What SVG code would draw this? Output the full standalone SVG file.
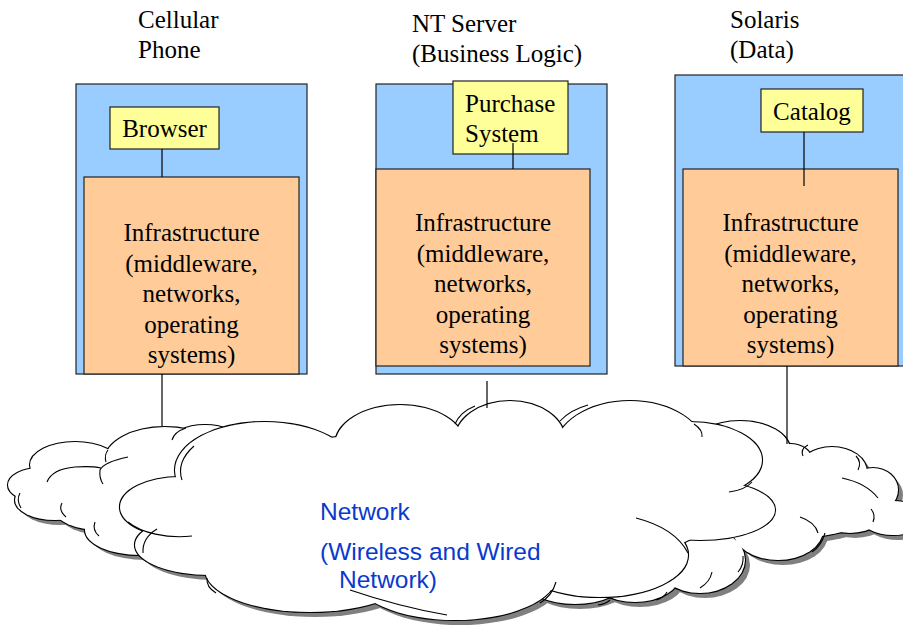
<svg xmlns="http://www.w3.org/2000/svg" width="903" height="626" viewBox="0 0 903 626">
<style>
.blue{fill:#99CCFF;stroke:#222;stroke-width:1.2}
.orange{fill:#FFCC99;stroke:#222;stroke-width:1.2}
.yellow{fill:#FFFF99;stroke:#222;stroke-width:1.2}
.serif{font-family:"Liberation Serif","Times New Roman",serif;font-size:25px;fill:#000}
.mid{text-anchor:middle}
.net{font-family:"Liberation Sans",Arial,sans-serif;font-size:24.5px;fill:#0a3acd}
.conn line{stroke:#000;stroke-width:1.2}
.hook{fill:none;stroke:#000;stroke-width:1.1}
.shadow{fill:#808080}
.outline{fill:none;stroke:#000;stroke-width:2.2}
.fillw{fill:#fff}
</style>
<defs>
<g id="lobesL">
<ellipse cx="40" cy="485" rx="32" ry="17"/>
<ellipse cx="75" cy="465" rx="45" ry="23"/>
<ellipse cx="165" cy="460" rx="60" ry="33"/>
<ellipse cx="205" cy="443" rx="35" ry="18"/>
<ellipse cx="55" cy="500" rx="40" ry="20"/>
<ellipse cx="100" cy="510" rx="45" ry="20"/>
<ellipse cx="140" cy="530" rx="55" ry="25"/>
<ellipse cx="130" cy="490" rx="100" ry="35"/>
</g>
<g id="lobesR">
<ellipse cx="740" cy="450" rx="50" ry="29"/>
<ellipse cx="790" cy="460" rx="22" ry="16"/>
<ellipse cx="832" cy="472" rx="35" ry="25"/>
<ellipse cx="873" cy="490" rx="25" ry="22"/>
<ellipse cx="893" cy="518" rx="32" ry="17"/>
<ellipse cx="850" cy="505" rx="40" ry="28"/>
<ellipse cx="778" cy="530" rx="45" ry="30"/>
<ellipse cx="700" cy="560" rx="45" ry="33"/>
<ellipse cx="635" cy="575" rx="45" ry="27"/>
<ellipse cx="575" cy="580" rx="50" ry="24"/>
<ellipse cx="770" cy="500" rx="120" ry="40"/>
</g>
<g id="lobesC">
<ellipse cx="180" cy="507" rx="60" ry="30"/>
<ellipse cx="265" cy="470" rx="90" ry="48"/>
<ellipse cx="400" cy="445" rx="65" ry="40"/>
<ellipse cx="510" cy="440" rx="55" ry="39"/>
<ellipse cx="630" cy="450" rx="75" ry="49"/>
<ellipse cx="690" cy="460" rx="72" ry="38"/>
<ellipse cx="700" cy="510" rx="75" ry="30"/>
<ellipse cx="600" cy="555" rx="88" ry="42"/>
<ellipse cx="455" cy="575" rx="102" ry="45"/>
<ellipse cx="310" cy="570" rx="105" ry="42"/>
<ellipse cx="210" cy="545" rx="75" ry="30"/>
<ellipse cx="450" cy="505" rx="270" ry="75"/>
</g>
</defs>

<g id="top-labels">
<text class="serif" x="138" y="28">Cellular</text>
<text class="serif" x="138" y="58">Phone</text>
<text class="serif" x="412" y="32">NT Server</text>
<text class="serif" x="412" y="62">(Business Logic)</text>
<text class="serif" x="730" y="28">Solaris</text>
<text class="serif" x="730" y="58">(Data)</text>
</g>

<g id="network-cloud">
<g class="shadow" transform="translate(5,5)">
<use href="#lobesL"/><use href="#lobesR"/><use href="#lobesC"/>
</g>
<g id="cloud-left">
<use href="#lobesL" class="outline"/>
<use href="#lobesL" class="fillw"/>
<path class="hook" d="M128,457 Q104,462 100,470 Q99,478 103,484"/>
<path class="hook" d="M47,482 Q52,469 75,467 Q92,466 101,468"/>
<path class="hook" d="M186,428 Q174,432 172,440"/>
<path class="hook" d="M108,450 Q104,455 106,462"/>
<path class="hook" d="M20,493 Q16,500 21,508"/>
<path class="hook" d="M62,503 Q58,510 66,517"/>
<path class="hook" d="M95,522 Q92,530 99,536"/>
</g>
<g id="cloud-right">
<use href="#lobesR" class="outline"/>
<use href="#lobesR" class="fillw"/>
<path class="hook" d="M803,456 Q800,449 808,445"/>
<path class="hook" d="M858,470 Q862,462 856,456"/>
<path class="hook" d="M842,478 Q866,483 878,498"/>
<path class="hook" d="M873,522 Q876,515 871,509"/>
<path class="hook" d="M825,533 Q822,545 812,552"/>
<path class="hook" d="M743,556 Q744,565 738,572"/>
<path class="hook" d="M712,572 Q710,582 700,588"/>
<path class="hook" d="M667,592 Q664,598 656,600"/>
<path class="hook" d="M610,600 Q606,604 598,605"/>
<path class="hook" d="M800,517 Q815,522 818,533"/>
</g>
<g id="cloud-center">
<use href="#lobesC" class="outline"/>
<use href="#lobesC" class="fillw"/>
<path class="hook" d="M182,480 Q176,462 194,446"/>
<path class="hook" d="M192,536 A60,30 0 0 1 128,522"/>
<path class="hook" d="M157,529 Q142,538 143,553"/>
<path class="hook" d="M350,590 Q400,607 447,615"/>
<path class="hook" d="M556,582 Q552,596 540,603"/>
<path class="hook" d="M636,518 Q675,528 688,553"/>
<path class="hook" d="M752,482 Q745,490 729,492"/>
<path class="hook" d="M694,424 Q703,430 702,437"/>
<path class="hook" d="M560,421 Q570,410 588,405"/>
<path class="hook" d="M455,424 Q460,412 475,406"/>
<path class="hook" d="M207,578 Q206,587 216,593"/>
</g>
<text class="net" x="320" y="520">Network</text>
<text class="net" x="320" y="560">(Wireless and Wired</text>
<text class="net" x="339" y="588">Network)</text>
</g>

<g id="node-phone">
<rect class="blue" x="76" y="84" width="231" height="290"/>
<rect class="orange" x="84" y="177" width="215" height="197"/>
<text class="serif mid" x="191.5" y="241">Infrastructure<tspan x="191.5" dy="30.5">(middleware,</tspan><tspan x="191.5" dy="30.5">networks,</tspan><tspan x="191.5" dy="30.5">operating</tspan><tspan x="191.5" dy="30.5">systems)</tspan></text>
</g>
<g id="node-browser">
<rect class="yellow" x="110" y="107" width="109" height="42"/>
<text class="serif mid" x="164.5" y="137">Browser</text>
</g>

<g id="node-ntserver">
<rect class="blue" x="376" y="84" width="231" height="290"/>
<rect class="orange" x="376" y="169" width="214" height="197"/>
<text class="serif mid" x="483" y="231">Infrastructure<tspan x="483" dy="30.5">(middleware,</tspan><tspan x="483" dy="30.5">networks,</tspan><tspan x="483" dy="30.5">operating</tspan><tspan x="483" dy="30.5">systems)</tspan></text>
</g>
<g id="node-purchase">
<rect class="yellow" x="453" y="81" width="115" height="73"/>
<text class="serif" x="465" y="112">Purchase</text>
<text class="serif" x="465" y="142">System</text>
</g>

<g id="node-solaris">
<rect class="blue" x="675" y="75" width="232" height="291"/>
<rect class="orange" x="683" y="169" width="215" height="197"/>
<text class="serif mid" x="790.5" y="231">Infrastructure<tspan x="790.5" dy="30.5">(middleware,</tspan><tspan x="790.5" dy="30.5">networks,</tspan><tspan x="790.5" dy="30.5">operating</tspan><tspan x="790.5" dy="30.5">systems)</tspan></text>
</g>
<g id="node-catalog">
<rect class="yellow" x="761" y="89" width="102" height="43"/>
<text class="serif mid" x="812" y="120">Catalog</text>
</g>

<g id="connectors" class="conn">
<line x1="162" y1="149" x2="162" y2="177"/>
<line x1="513" y1="143" x2="513" y2="169"/>
<line x1="804" y1="132" x2="804" y2="186"/>
<line x1="162" y1="374" x2="162" y2="426"/>
<line x1="487" y1="381" x2="487" y2="408"/>
<line x1="787" y1="366" x2="787" y2="444"/>
</g>
</svg>
